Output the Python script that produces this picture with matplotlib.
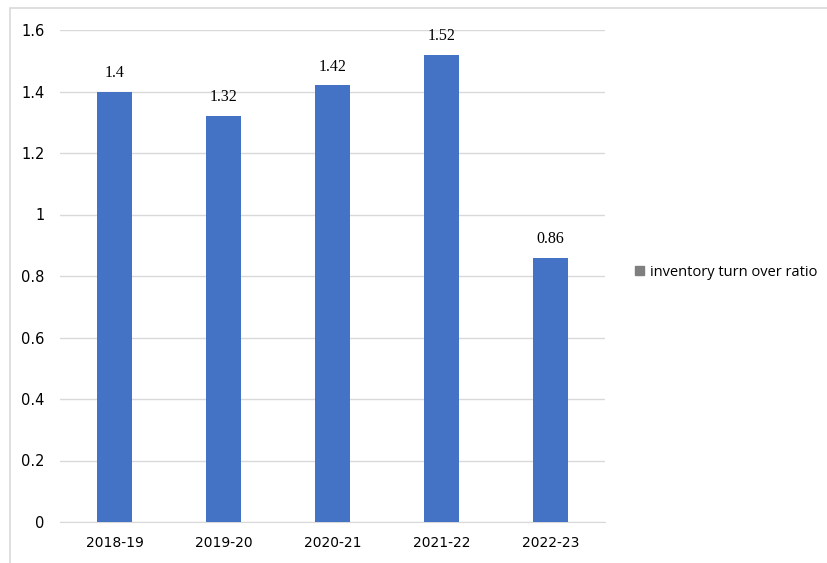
import matplotlib.pyplot as plt
from matplotlib import patches as ptc

years = ['2018-19', '2019-20', '2020-21', '2021-22', '2022-23']
ratio = [1.4, 1.32, 1.42, 1.52, 0.86]
yticks = [0, 0.2, 0.4, 0.6, 0.8, 1.0, 1.2, 1.4, 1.6]
ytick_labels = ['0', '0.2', '0.4', '0.6', '0.8', '1', '1.2', '1.4', '1.6']

fig = plt.figure(figsize=(8.27, 5.63), dpi=100)
ax = fig.add_axes([60 / 827, 41 / 563, 545 / 827, 492 / 563])

# outer frame of the chart area
fig.patches.append(ptc.Rectangle((10 / 827, -0.01), 1.0, (563 - 8) / 563 + 0.01,
                                 transform=fig.transFigure, fill=False,
                                 edgecolor='#d9d9d9', linewidth=1.2))

x = range(len(years))
bars = ax.bar(x, ratio, width=0.33, color='#4472c4', zorder=3)

for xi, v in zip(x, ratio):
    ax.text(xi, v + 0.035, f'{v:g}', ha='center', va='bottom',
            fontsize=11.5, family='Liberation Serif', color='#000000')

ax.set_xlim(-0.5, len(years) - 0.5)
ax.set_ylim(0, 1.6)
ax.set_yticks(yticks, ytick_labels, fontsize=10.5, family='DejaVu Sans')
ax.set_xticks(list(x), years, fontsize=10, family='Liberation Sans Narrow')
ax.grid(axis='y', color='#d9d9d9', linewidth=1, zorder=0)
ax.tick_params(length=0)
ax.tick_params(axis='y', pad=11)
ax.tick_params(axis='x', pad=10)
for s in ['top', 'right', 'left']:
    ax.spines[s].set_visible(False)
ax.spines['bottom'].set_color('#d9d9d9')

fig.legend(handles=[ptc.Patch(color='#7f7f7f', label='inventory turn over ratio')],
           loc='center left', bbox_to_anchor=(622 / 827, 1 - 272 / 563),
           frameon=False, handlelength=0.6, handleheight=0.6,
           handletextpad=0.4, prop={'family': 'Open Sans', 'size': 10.5})

plt.savefig('out.png')
